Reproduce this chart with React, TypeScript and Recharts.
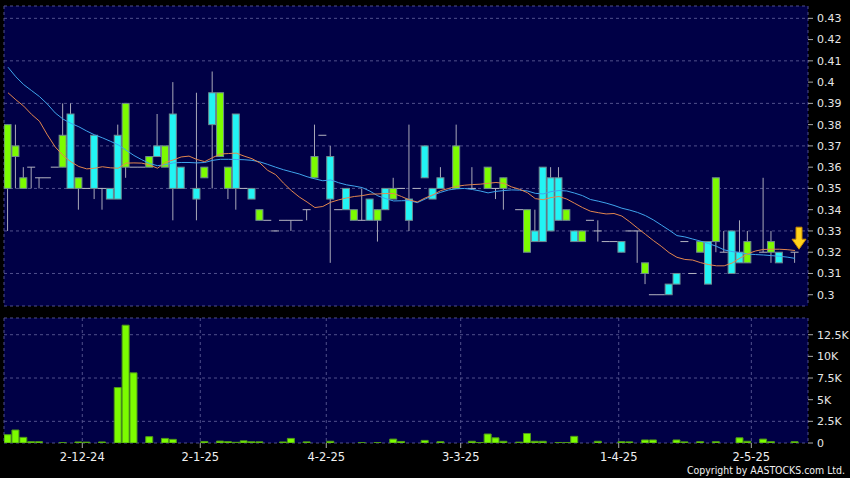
import React from 'react';
import { ComposedChart, Bar, Line, XAxis, YAxis, CartesianGrid, ReferenceDot } from 'recharts';

const openP = [
  0.35, 0.365, 0.35, 0.36, 0.355, 0.355, 0.36, 0.36, 0.385, 0.35,
  0.35, 0.375, 0.35, 0.35, 0.375, 0.36, 0.36, 0.36, 0.36, 0.37,
  0.36, 0.385, 0.36, null, 0.35, 0.355, 0.395, 0.365, 0.35, 0.385,
  0.35, 0.35, 0.335, 0.335, 0.33, 0.335, 0.335, 0.335, 0.34, 0.355,
  0.375, 0.365, 0.34, 0.35, 0.335, 0.335, 0.345, 0.335, 0.35, 0.345,
  0.35, 0.345, 0.35, 0.37, 0.35, 0.355, null, 0.35, null, 0.35,
  null, 0.35, 0.35, 0.35, null, 0.34, 0.32, 0.33, 0.36, 0.355,
  0.355, 0.335, 0.33, 0.325, 0.335, 0.33, 0.325, 0.325, 0.325, 0.33,
  0.33, 0.31, 0.30, 0.30, 0.305, 0.31, 0.325, 0.31, 0.32, 0.325,
  0.325, 0.32, 0.33, 0.32, 0.315, null, 0.32, 0.32, 0.32, null,
  0.32,
];
const closeP = [
  0.38, 0.37, 0.355, 0.36, 0.355, 0.355, 0.36, 0.375, 0.35, 0.355,
  0.35, 0.35, 0.35, 0.345, 0.345, 0.39, 0.36, 0.36, 0.365, 0.365,
  0.37, 0.35, 0.35, null, 0.345, 0.36, 0.38, 0.395, 0.36, 0.35,
  0.35, 0.345, 0.34, 0.335, 0.33, 0.335, 0.335, 0.335, 0.34, 0.365,
  0.375, 0.345, 0.34, 0.34, 0.34, 0.335, 0.335, 0.34, 0.34, 0.35,
  0.35, 0.335, 0.35, 0.355, 0.345, 0.35, null, 0.37, null, 0.35,
  null, 0.36, 0.35, 0.355, null, 0.34, 0.34, 0.325, 0.325, 0.33,
  0.335, 0.34, 0.325, 0.33, 0.335, 0.33, 0.325, 0.325, 0.32, 0.33,
  0.33, 0.315, 0.30, 0.30, 0.30, 0.305, 0.325, 0.31, 0.325, 0.305,
  0.355, 0.32, 0.31, 0.315, 0.325, null, 0.32, 0.325, 0.315, null,
  0.32,
];
const highP = [
  0.38, 0.38, 0.36, 0.36, 0.355, 0.355, 0.36, 0.39, 0.39, 0.355,
  0.35, 0.375, 0.35, 0.35, 0.38, 0.39, 0.36, 0.36, 0.365, 0.385,
  0.37, 0.40, 0.36, null, 0.395, 0.36, 0.405, 0.395, 0.36, 0.385,
  0.35, 0.35, 0.34, 0.335, 0.33, 0.335, 0.335, 0.335, 0.34, 0.38,
  0.375, 0.37, 0.34, 0.35, 0.34, 0.35, 0.345, 0.34, 0.35, 0.355,
  0.35, 0.38, 0.35, 0.37, 0.35, 0.36, null, 0.38, null, 0.36,
  null, 0.36, 0.35, 0.355, null, 0.34, 0.34, 0.34, 0.36, 0.36,
  0.36, 0.34, 0.33, 0.33, 0.335, 0.335, 0.325, 0.325, 0.325, 0.33,
  0.33, 0.315, 0.30, 0.30, 0.305, 0.31, 0.325, 0.31, 0.325, 0.325,
  0.355, 0.33, 0.33, 0.335, 0.33, null, 0.355, 0.33, 0.32, null,
  0.32,
];
const lowP = [
  0.33, 0.35, 0.35, 0.35, 0.35, 0.355, 0.36, 0.36, 0.35, 0.34,
  0.35, 0.345, 0.34, 0.345, 0.345, 0.355, 0.36, 0.36, 0.36, 0.365,
  0.36, 0.335, 0.35, null, 0.335, 0.355, 0.35, 0.365, 0.345, 0.34,
  0.35, 0.345, 0.335, 0.335, 0.33, 0.335, 0.33, 0.335, 0.335, 0.355,
  0.375, 0.315, 0.34, 0.34, 0.335, 0.335, 0.335, 0.325, 0.34, 0.345,
  0.35, 0.33, 0.35, 0.355, 0.345, 0.35, null, 0.35, null, 0.35,
  null, 0.35, 0.345, 0.34, null, 0.34, 0.32, 0.325, 0.325, 0.33,
  0.335, 0.335, 0.325, 0.325, 0.335, 0.325, 0.325, 0.325, 0.32, 0.33,
  0.315, 0.305, 0.30, 0.30, 0.30, 0.305, 0.325, 0.31, 0.32, 0.305,
  0.32, 0.32, 0.31, 0.315, 0.315, null, 0.32, 0.315, 0.315, null,
  0.315,
];
const volume = [
  960, 1500, 650, 150, 150, 0, 0, 50, 0, 120,
  100, 0, 120, 0, 6400, 13600, 8100, 0, 730, 0,
  530, 420, 0, 0, 0, 180, 0, 220, 160, 80,
  250, 140, 130, 0, 0, 120, 530, 0, 130, 0,
  0, 200, 0, 0, 0, 50, 0, 50, 0, 450,
  180, 0, 0, 300, 0, 150, 0, 0, 0, 200,
  50, 1040, 600, 200, 0, 100, 1100, 200, 200, 0,
  60, 60, 770, 0, 0, 200, 0, 0, 150, 130,
  0, 350, 350, 0, 0, 350, 130, 0, 150, 0,
  150, 0, 0, 600, 200, 0, 450, 150, 0, 0,
  150,
];
const maShort = [
  0.395, 0.3917, 0.3887, 0.3848, 0.3816, 0.3752, 0.3695, 0.3655, 0.3625, 0.3603,
  0.3592, 0.3595, 0.3602, 0.3597, 0.3595, 0.3619, 0.362, 0.3619, 0.361, 0.3595,
  0.3622, 0.3634, 0.3648, 0.3652, 0.3636, 0.3626, 0.3645, 0.3662, 0.3664, 0.3666,
  0.3652, 0.364, 0.362, 0.3585, 0.3565, 0.3525, 0.349, 0.346, 0.3436, 0.341,
  0.3415, 0.3435, 0.3446, 0.3455, 0.3462, 0.3466, 0.3473, 0.3474, 0.3476, 0.3476,
  0.3462, 0.3446, 0.3436, 0.3455, 0.347, 0.349, 0.35, 0.351, 0.3515, 0.3518,
  0.352, 0.3524, 0.3528, 0.3524, 0.3507, 0.3496, 0.348, 0.3452, 0.3447, 0.3457,
  0.3462, 0.345, 0.343, 0.341, 0.3393, 0.3386, 0.338, 0.3382, 0.337, 0.3343,
  0.3313, 0.3284, 0.3255, 0.3228, 0.3198, 0.3176, 0.3166, 0.3163, 0.3151, 0.3142,
  0.3136, 0.3136, 0.3149, 0.3172, 0.3193, 0.3206, 0.3213, 0.3214, 0.3214, 0.3212,
  0.3208,
];
const maLong = [
  0.407, 0.4025, 0.3988, 0.396, 0.3932, 0.3897, 0.3855, 0.3826, 0.3806, 0.379,
  0.377, 0.3752, 0.3738, 0.3722, 0.3705, 0.368, 0.3655, 0.3635, 0.3617, 0.3607,
  0.3612, 0.362, 0.3622, 0.3622, 0.362, 0.3622, 0.3632, 0.3637, 0.3637, 0.3636,
  0.3635, 0.3632, 0.3625, 0.3613, 0.36, 0.3588, 0.3578, 0.3568, 0.3555, 0.3545,
  0.3536, 0.354, 0.3527, 0.3517, 0.3511, 0.3504, 0.3487, 0.3465, 0.3452, 0.3441,
  0.3442, 0.3443, 0.3433, 0.345, 0.3468, 0.3482, 0.3493, 0.3498, 0.35, 0.3495,
  0.3488, 0.3479, 0.3486, 0.349, 0.3493, 0.3492, 0.3488, 0.3477, 0.3474, 0.3485,
  0.349, 0.3488, 0.3478, 0.3466, 0.3448, 0.344, 0.3431, 0.342, 0.3407, 0.3398,
  0.3387, 0.3372, 0.3352, 0.3328, 0.3304, 0.3278, 0.3272, 0.3262, 0.3252, 0.3241,
  0.3228, 0.3211, 0.3203, 0.3198, 0.3191, 0.3189, 0.3187, 0.3184, 0.3181, 0.3177,
  0.3171,
];
const dateLabels = ['2-12-24', '2-1-25', '4-2-25', '3-3-25', '1-4-25', '2-5-25'];
const dateTickPos = [9.44, 24.43, 40.44, 57.52, 77.6, 94.45];
const priceTicks = [0.3, 0.31, 0.32, 0.33, 0.34, 0.35, 0.36, 0.37, 0.38, 0.39, 0.4, 0.41, 0.42, 0.43];
const volTicks = [0, 2500, 5000, 7500, 10000, 12500];
const lastPrice = 0.32;

const data = openP.map((o, i) => ({
  i,
  o,
  c: closeP[i],
  h: highP[i],
  l: lowP[i],
  range: o == null ? null : [lowP[i], highP[i]],
  vol: volume[i],
  maShort: maShort[i],
  maLong: maLong[i],
}));

const X_DOMAIN: [number, number] = [-0.508, 101.65];
const BG = '#000046';
const GRID = '#50508c';
const UP = '#7CFC00';
const DOWN = '#22F4F4';
const FONT = 'DejaVu Sans, Verdana, sans-serif';

const Candle = (props: any) => {
  const { x, y, width, height, payload } = props;
  if (!payload || payload.o == null) return null;
  const { o, c, h, l } = payload;
  const span = h - l;
  const k = span > 1e-9 ? height / span : 0;
  const yOf = (v: number) => y + (h - v) * k;
  const cx = x + width / 2;
  const parts: any[] = [];
  if (span > 1e-9) {
    parts.push(<line key="w" x1={cx} x2={cx} y1={yOf(h)} y2={yOf(l)} stroke="#a8a8b8" strokeWidth={1} />);
  }
  if (Math.abs(o - c) < 1e-9) {
    parts.push(<line key="d" x1={x - 0.5} x2={x + width + 0.5} y1={yOf(o)} y2={yOf(o)} stroke="#b4b4c0" strokeWidth={1} />);
  } else {
    const top = yOf(Math.max(o, c));
    const bot = yOf(Math.min(o, c));
    parts.push(
      <rect key="b" x={x} y={top} width={width} height={bot - top}
        fill={c > o ? UP : DOWN} stroke="#6f8a90" strokeWidth={1} />
    );
  }
  return <g>{parts}</g>;
};

const Arrow = (props: any) => {
  const { cx, cy } = props;
  if (cx == null || cy == null) return null;
  const ax = cx + 4;
  const tip = cy - 3;
  const d = `M ${ax - 3} ${tip - 22} L ${ax + 3} ${tip - 22} L ${ax + 3} ${tip - 10} L ${ax + 7} ${tip - 10} L ${ax} ${tip} L ${ax - 7} ${tip - 10} L ${ax - 3} ${tip - 10} Z`;
  return <path d={d} fill="#FFD21A" stroke="#C88A00" strokeWidth={1} />;
};

const priceFmt = (v: number) => String(Number(v.toFixed(2)));
const volFmt = (v: number) => (v === 0 ? '0' : `${v / 1000}K`);

export default function App() {
  return (
    <div style={{ position: 'absolute', left: 0, top: 0, width: 850, height: 478, background: '#000', overflow: 'hidden' }}>
      <div style={{ position: 'absolute', left: 0, top: 0 }}>
        <ComposedChart width={850} height={307} data={data} margin={{ top: 6, right: 0, bottom: 1, left: 4 }}>
          <CartesianGrid fill={BG} stroke={GRID} strokeDasharray="3 3" />
          <XAxis dataKey="i" type="number" domain={X_DOMAIN} allowDataOverflow ticks={dateTickPos}
            height={0} tick={false} tickLine={false} axisLine={false} />
          <YAxis orientation="right" width={42} domain={[0.2947, 0.4358]} allowDataOverflow ticks={priceTicks}
            tickFormatter={priceFmt} axisLine={false} tickSize={5} tickMargin={4}
            tickLine={{ stroke: '#aaaaaa' }}
            tick={{ fill: '#e6e6e6', fontSize: 11, fontFamily: FONT }} />
          <Bar dataKey="range" barSize={7} shape={Candle} isAnimationActive={false} />
          <Line dataKey="maLong" type="linear" stroke="#3fa4ec" strokeWidth={1} dot={false} activeDot={false} isAnimationActive={false} connectNulls />
          <Line dataKey="maShort" type="linear" stroke="#e2864e" strokeWidth={1} dot={false} activeDot={false} isAnimationActive={false} connectNulls />
          <ReferenceDot x={data.length - 1} y={lastPrice} shape={Arrow} />
        </ComposedChart>
      </div>
      <div style={{ position: 'absolute', left: 0, top: 307 }}>
        <ComposedChart width={850} height={171} data={data} margin={{ top: 11, right: 0, bottom: 0, left: 4 }}>
          <CartesianGrid fill={BG} stroke={GRID} strokeDasharray="3 3" />
          <XAxis dataKey="i" type="number" domain={X_DOMAIN} allowDataOverflow ticks={dateTickPos}
            tickFormatter={(_v: number, idx: number) => dateLabels[idx]}
            height={35} axisLine={false} tickSize={5} tickMargin={5}
            tickLine={{ stroke: '#aaaaaa' }}
            tick={{ fill: '#f0f0f0', fontSize: 11.5, fontFamily: FONT }} />
          <YAxis orientation="right" width={42} domain={[0, 14430]} allowDataOverflow ticks={volTicks}
            tickFormatter={volFmt} axisLine={false} tickSize={5} tickMargin={4}
            tickLine={{ stroke: '#aaaaaa' }}
            tick={{ fill: '#e6e6e6', fontSize: 11, fontFamily: FONT }} />
          <Bar dataKey="vol" barSize={7} fill={UP} stroke="#4f9a18" strokeWidth={1} isAnimationActive={false} />
        </ComposedChart>
      </div>
      <svg width={850} height={478} style={{ position: 'absolute', left: 0, top: 0, pointerEvents: 'none' }}>
        <text x={845} y={474} textAnchor="end" fill="#f0f0f0" fontSize={10.5}
          fontFamily="DejaVu Sans Condensed, DejaVu Sans, sans-serif" fontStretch="condensed"
          textLength={158} lengthAdjust="spacingAndGlyphs">Copyright by AASTOCKS.com Ltd.</text>
      </svg>
    </div>
  );
}
